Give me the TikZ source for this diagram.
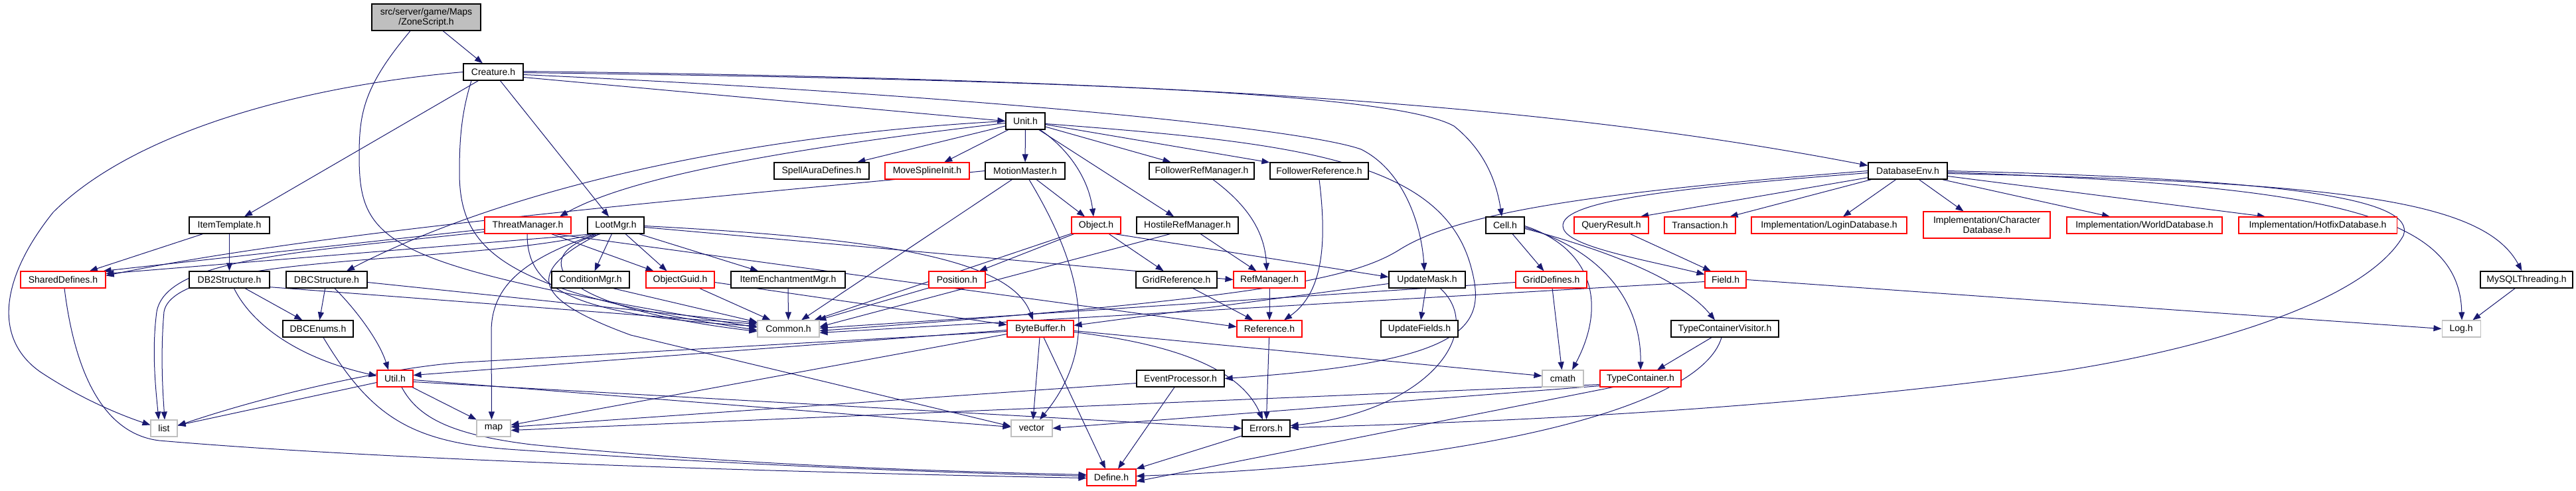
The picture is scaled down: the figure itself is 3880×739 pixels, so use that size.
\documentclass[tikz,border=0pt]{standalone}
\usepackage{fontspec}
\setmainfont{Liberation Sans}
\usetikzlibrary{arrows.meta,calc}
\definecolor{edgecol}{HTML}{191970}
\definecolor{grayb}{HTML}{BFBFBF}
\definecolor{redb}{HTML}{FF0000}
\pgfdeclarelayer{bg}
\pgfsetlayers{bg,main}
\tikzset{
  nbase/.style={rectangle,inner sep=0pt,minimum height=25pt,fill=white,line width=1.1pt,align=center,font=\fontsize{14}{15}\selectfont},
  bn/.style={nbase,draw=black,line width=1.3pt},
  rn/.style={nbase,draw=redb},
  gn/.style={nbase,draw=grayb},
  mn/.style={nbase,draw=black,line width=1.3pt,fill=grayb},
  ed/.style={draw=edgecol,line width=1pt,-{Triangle[length=12pt,width=9pt]}}
}
\begin{document}
\begin{tikzpicture}[x=1pt,y=-1pt]
\useasboundingbox (0,0) rectangle (3880,739);
% nodes
\node[mn,minimum width=164pt,minimum height=40pt] (zs) at (642,26) {src/server/game/Maps\\/ZoneScript.h};
\node[bn,minimum width=90pt] (creature) at (743,108.5) {Creature.h};
\node[bn,minimum width=59pt] (unit) at (1544.5,182.5) {Unit.h};
\node[bn,minimum width=143pt] (spellaura) at (1237.5,257.5) {SpellAuraDefines.h};
\node[rn,minimum width=127pt] (movespline) at (1396.5,257.5) {MoveSplineInit.h};
\node[bn,minimum width=120pt] (motion) at (1544,257.5) {MotionMaster.h};
\node[bn,minimum width=158pt] (folrefmgr) at (1810,257.5) {FollowerRefManager.h};
\node[bn,minimum width=148pt] (folref) at (1987,257.5) {FollowerReference.h};
\node[bn,minimum width=119pt] (dbenv) at (2873.5,257.5) {DatabaseEnv.h};
\node[bn,minimum width=121pt] (itemtpl) at (345.5,339.5) {ItemTemplate.h};
\node[rn,minimum width=130pt] (threat) at (795,339.5) {ThreatManager.h};
\node[bn,minimum width=85pt] (loot) at (927.5,339.5) {LootMgr.h};
\node[rn,minimum width=74pt] (object) at (1651,339.5) {Object.h};
\node[bn,minimum width=153pt] (hostile) at (1788.5,339.5) {HostileRefManager.h};
\node[bn,minimum width=58pt] (cell) at (2267,339.5) {Cell.h};
\node[rn,minimum width=112pt] (query) at (2427,339.5) {QueryResult.h};
\node[rn,minimum width=107pt] (trans) at (2560.5,339.5) {Transaction.h};
\node[rn,minimum width=234pt] (logindb) at (2755,339.5) {Implementation/LoginDatabase.h};
\node[rn,minimum width=191pt,minimum height=40pt] (chardb) at (2992.5,339) {Implementation/Character\\Database.h};
\node[rn,minimum width=234pt] (worlddb) at (3230,339.5) {Implementation/WorldDatabase.h};
\node[rn,minimum width=238pt] (hotfixdb) at (3491,339.5) {Implementation/HotfixDatabase.h};
\node[rn,minimum width=128pt] (shared) at (95,421.5) {SharedDefines.h};
\node[bn,minimum width=121pt] (db2) at (345.5,421.5) {DB2Structure.h};
\node[bn,minimum width=122pt] (dbc) at (492,421.5) {DBCStructure.h};
\node[bn,minimum width=117pt] (cond) at (889.5,421.5) {ConditionMgr.h};
\node[rn,minimum width=103pt] (guid) at (1024.5,421.5) {ObjectGuid.h};
\node[bn,minimum width=172pt] (itemench) at (1187,421.5) {ItemEnchantmentMgr.h};
\node[rn,minimum width=85pt] (position) at (1441.5,421.5) {Position.h};
\node[bn,minimum width=122pt] (gridref) at (1772,421.5) {GridReference.h};
\node[rn,minimum width=108pt] (refmgr) at (1912,421.5) {RefManager.h};
\node[bn,minimum width=115pt] (updmask) at (2149.5,421.5) {UpdateMask.h};
\node[rn,minimum width=107pt] (griddef) at (2336.5,421.5) {GridDefines.h};
\node[rn,minimum width=62pt] (field) at (2599,421.5) {Field.h};
\node[bn,minimum width=139pt] (mysql) at (3805.5,421.5) {MySQLThreading.h};
\node[bn,minimum width=106pt] (dbcenums) at (479,495.5) {DBCEnums.h};
\node[gn,minimum width=93pt] (common) at (1187.5,495.5) {Common.h};
\node[rn,minimum width=100pt] (bytebuf) at (1567,495.5) {ByteBuffer.h};
\node[rn,minimum width=98pt] (reference) at (1912,495.5) {Reference.h};
\node[bn,minimum width=116pt] (updfields) at (2138,495.5) {UpdateFields.h};
\node[bn,minimum width=162pt] (tcv) at (2598,495.5) {TypeContainerVisitor.h};
\node[gn,minimum width=58pt] (log) at (3707,495.5) {Log.h};
\node[rn,minimum width=54pt] (util) at (595,570.5) {Util.h};
\node[bn,minimum width=132pt] (eventproc) at (1778,570.5) {EventProcessor.h};
\node[gn,minimum width=62pt] (cmath) at (2354,570.5) {cmath};
\node[rn,minimum width=122pt] (tc) at (2471,570.5) {TypeContainer.h};
\node[gn,minimum width=40pt] (list) at (247,645.5) {list};
\node[gn,minimum width=51pt] (map) at (743.5,645.5) {map};
\node[gn,minimum width=62pt] (vector) at (1554,645.5) {vector};
\node[bn,minimum width=72pt] (errors) at (1907,645.5) {Errors.h};
\node[rn,minimum width=74pt] (define) at (1674,719.5) {Define.h};

\begin{pgfonlayer}{bg}
% ZoneScript
\draw[ed] (zs) -- (creature);
\draw[ed] ($(zs.south)+(-24,0)$) .. controls (548,130) and (541,170) .. (541,235) .. controls (541,370) and (580,400) .. ($(common.west)+(0,-2)$);
% Creature
\draw[ed] (creature) -- (itemtpl);
\draw[ed] (creature) -- (loot);
\draw[ed] ($(creature.east)+(0,8)$) -- (unit.west);
\draw[ed] ($(creature.south)+(-33,0)$) .. controls (695,170) and (692,210) .. (692,260) .. controls (692,380) and (760,440) .. ($(common.west)+(0,2)$);
\draw[ed] (creature.west) .. controls (450,130) and (200,200) .. (80,320) .. controls (0,420) and (-10,510) .. (60,560) .. controls (120,600) and (180,625) .. ($(list.west)+(0,-5)$);
\draw[ed] ($(creature.east)+(0,1)$) .. controls (1600,120) and (2100,140) .. (2190,190) .. controls (2240,230) and (2255,280) .. ($(cell.north)+(-5,0)$);
\draw[ed] ($(creature.east)+(0,-1)$) .. controls (1800,120) and (2350,160) .. ($(dbenv.west)+(0,-8)$);
\draw[ed] ($(creature.east)+(0,4)$) .. controls (1400,140) and (1950,190) .. (2050,225) .. controls (2110,255) and (2140,330) .. ($(updmask.north)+(-4,0)$);
% Unit
\draw[ed] (unit.west) .. controls (1100,205) and (750,290) .. ($(dbc.north)+(30,0)$);
\draw[ed] ($(unit.west)+(0,3)$) .. controls (1200,222) and (950,265) .. ($(threat.north)+(48,0)$);
\draw[ed] (unit) -- (spellaura);
\draw[ed] (unit) -- (movespline);
\draw[ed] (unit) -- (motion);
\draw[ed] ($(unit.south east)+(-8,0)$) .. controls (1610,225) and (1640,270) .. ($(object.north)+(-4,0)$);
\draw[ed] (unit) -- (hostile);
\draw[ed] (unit) -- (folrefmgr);
\draw[ed] (unit) -- (folref);
\draw[ed] ($(unit.east)+(0,4)$) .. controls (1950,215) and (2170,240) .. (2215,400) .. controls (2240,490) and (2220,545) .. (eventproc.east);
% ItemTemplate
\draw[ed] (itemtpl) -- (shared);
\draw[ed] (itemtpl) -- (db2);
% ThreatManager
\draw[ed] ($(threat.west)+(0,6)$) -- ($(shared.north east)+(-4,0)$);
\draw[ed] ($(threat.west)+(0,10)$) .. controls (450,380) and (250,390) .. (236,470) .. controls (228,530) and (235,590) .. ($(list.north)+(-8,0)$);
\draw[ed] ($(threat.south east)+(-30,0)$) -- ($(guid.north)+(-40,0)$);
\draw[ed] ($(threat.south east)+(-25,0)$) -- ($(reference.west)+(0,-3)$);
\draw[ed] ($(threat.south)+(-1,0)$) .. controls (794,430) and (850,475) .. ($(common.west)+(0,-4)$);
% LootMgr
\draw[ed] ($(loot.south west)+(10,0)$) -- ($(shared.east)+(0,-9)$);
\draw[ed] ($(loot.south west)+(12,0)$) .. controls (700,400) and (262,380) .. (247,470) .. controls (241,540) and (246,600) .. ($(list.north)+(1,0)$);
\draw[ed] ($(loot.south west)+(14,0)$) .. controls (790,390) and (740,430) .. (740,500) -- ($(map.north)+(-3,0)$);
\draw[ed] ($(loot.south west)+(18,0)$) .. controls (790,410) and (800,450) .. (950,505) -- ($(vector.west)+(0,-3)$);
\draw[ed] ($(loot.south west)+(20,0)$) .. controls (800,380) and (810,460) .. ($(common.west)+(0,4)$);
\draw[ed] (loot) -- (cond);
\draw[ed] (loot) -- ($(guid.north)+(-20,0)$);
\draw[ed] ($(loot.south east)+(-8,0)$) -- ($(itemench.north)+(-45,0)$);
\draw[ed] ($(loot.east)+(0,3)$) -- (refmgr.west);
\draw[ed] ($(loot.east)+(0,1)$) .. controls (1300,358) and (1520,385) .. ($(bytebuf.north)+(-11,0)$);
% MotionMaster
\draw[ed] (motion.west) .. controls (1100,295) and (500,345) .. ($(shared.east)+(0,-6)$);
\draw[ed] (motion) -- (common);
\draw[ed] ($(motion.south)+(6,0)$) .. controls (1640,420) and (1650,530) .. ($(vector.north)+(12,0)$);
\draw[ed] (motion) -- (object);
% Object
\draw[ed] (object) -- (position);
\draw[ed] (object) -- (common);
\draw[ed] (object) -- (gridref);
\draw[ed] ($(object.south east)+(-10,0)$) -- ($(updmask.west)+(0,-4)$);
% HostileRefManager
\draw[ed] ($(hostile.south west)+(51,0)$) -- ($(common.east)+(0,-3)$);
\draw[ed] (hostile) -- (refmgr);
% FollowerRefManager, FollowerReference
\draw[ed] ($(folrefmgr.south)+(17,0)$) .. controls (1880,310) and (1905,350) .. ($(refmgr.north)+(-4,0)$);
\draw[ed] (folref.south) .. controls (1998,360) and (1995,440) .. ($(reference.north)+(22,0)$);
% references
\draw[ed] (gridref) -- (reference);
\draw[ed] (refmgr) -- (reference);
\draw[ed] (reference) -- (errors);
% DB2 / DBC
\draw[ed] (db2) -- (dbcenums);
\draw[ed] ($(db2.south)+(7,0)$) .. controls (380,490) and (450,540) .. ($(util.west)+(0,-4)$);
\draw[ed] ($(db2.south east)+(0,-2)$) -- ($(common.west)+(0,-7)$);
\draw[ed] (dbc) -- (dbcenums);
\draw[ed] ($(dbc.south)+(12,0)$) .. controls (530,460) and (570,510) .. ($(util.north)+(-10,0)$);
\draw[ed] ($(dbc.east)+(0,4)$) -- ($(common.west)+(0,-9)$);
% to Define from the left
\draw[ed] ($(dbcenums.south)+(8,0)$) .. controls (560,630) and (620,668) .. (780,678) .. controls (1100,700) and (1400,712) .. ($(define.west)+(0,-2)$);
\draw[ed] ($(shared.south)+(2,0)$) .. controls (115,580) and (165,655) .. (240,664) .. controls (600,695) and (1200,712) .. ($(define.west)+(0,1)$);
\draw[ed] ($(util.south)+(10,0)$) .. controls (630,630) and (680,655) .. (800,670) .. controls (1100,700) and (1400,710) .. ($(define.west)+(0,-4)$);
% Util
\draw[ed] (util) -- (list);
\draw[ed] (util) -- (map);
\draw[ed] ($(util.east)+(0,2)$) -- ($(vector.west)+(0,-2)$);
\draw[ed] ($(util.east)+(0,5)$) -- (errors.west);
% Condition / Guid / ItemEnchantment / Position
\draw[ed] ($(cond.south east)+(-25,0)$) -- ($(common.west)+(0,-10)$);
\draw[ed] (guid) -- ($(common.north)+(-27,0)$);
\draw[ed] ($(guid.east)+(0,4)$) -- ($(bytebuf.west)+(0,-6)$);
\draw[ed] (itemench) -- (common);
\draw[ed] (position) -- (common);
% ByteBuffer
\draw[ed] ($(bytebuf.west)+(0,4)$) -- (700,546) .. controls (600,552) and (420,590) .. ($(list.east)+(0,-4)$);
\draw[ed] ($(bytebuf.west)+(0,2)$) -- ($(util.east)+(0,-5)$);
\draw[ed] ($(bytebuf.west)+(0,8)$) -- ($(map.east)+(0,-5)$);
\draw[ed] ($(bytebuf.south)+(-1,0)$) -- ($(vector.north)+(2,0)$);
\draw[ed] ($(bytebuf.south)+(5,0)$) -- ($(define.north)+(-9,0)$);
\draw[ed] ($(bytebuf.east)+(0,5)$) .. controls (1780,520) and (1870,560) .. ($(errors.north)+(-5,0)$);
\draw[ed] ($(bytebuf.east)+(0,3)$) -- ($(cmath.west)+(0,-4)$);
% EventProcessor, Errors
\draw[ed] ($(eventproc.west)+(0,7)$) -- ($(map.east)+(0,-2)$);
\draw[ed] ($(eventproc.south)+(-9,0)$) -- ($(define.north)+(10,0)$);
\draw[ed] (errors) -- ($(define.east)+(0,-13)$);
% UpdateMask
\draw[ed] (updmask) -- (updfields);
\draw[ed] ($(updmask.south)+(20,0)$) .. controls (2240,500) and (2150,620) .. ($(errors.east)+(0,-4)$);
\draw[ed] ($(updmask.west)+(0,6)$) -- ($(bytebuf.east)+(0,-5)$);
% GridDefines
\draw[ed] (griddef) -- (cmath);
\draw[ed] ($(griddef.west)+(0,4)$) -- ($(common.east)+(0,-1)$);
% Cell
\draw[ed] (cell) -- (griddef);
\draw[ed] ($(cell.east)+(0,1)$) .. controls (2400,375) and (2420,460) .. ($(cmath.north)+(14,0)$);
\draw[ed] ($(cell.east)+(0,3)$) .. controls (2420,380) and (2472,460) .. (tc.north);
\draw[ed] ($(cell.east)+(0,5)$) .. controls (2450,385) and (2540,430) .. ($(tcv.north)+(-15,0)$);
% TypeContainerVisitor, TypeContainer
\draw[ed] ($(tcv.south)+(-20,0)$) -- ($(tc.north)+(25,0)$);
\draw[ed] ($(tcv.south)+(-5,0)$) .. controls (2560,620) and (2200,700) .. ($(define.east)+(0,-2)$);
\draw[ed] ($(tc.south west)+(0,-4)$) -- ($(map.east)+(0,3)$);
\draw[ed] ($(tc.south west)+(0,-2)$) -- (vector.east);
\draw[ed] ($(tc.south west)+(20,0)$) -- ($(define.east)+(0,6)$);
% DatabaseEnv
\draw[ed] (dbenv.west) .. controls (2400,290) and (2200,320) .. (2110,375) .. controls (2040,420) and (1900,450) .. ($(common.east)+(0,3)$);
\draw[ed] ($(dbenv.west)+(0,3)$) .. controls (2500,285) and (2340,305) .. (2355,345) .. controls (2365,372) and (2470,390) .. ($(field.west)+(0,-8)$);
\draw[ed] ($(dbenv.south west)+(0,-3)$) -- ($(query.north)+(44,0)$);
\draw[ed] ($(dbenv.south west)+(5,0)$) -- ($(trans.north)+(45,0)$);
\draw[ed] ($(dbenv.south)+(-18,0)$) -- ($(logindb.north)+(21,0)$);
\draw[ed] ($(dbenv.south)+(17,0)$) -- ($(chardb.north)+(-35,0)$);
\draw[ed] ($(dbenv.south east)+(-8,0)$) -- ($(worlddb.north)+(-52,0)$);
\draw[ed] ($(dbenv.east)+(0,8)$) -- ($(hotfixdb.north)+(-79,0)$);
\draw[ed] (dbenv.east) .. controls (3450,270) and (3640,300) .. (3620,355) .. controls (3560,460) and (3300,530) .. (3100,560) .. controls (2700,615) and (2300,635) .. ($(errors.east)+(0,-1)$);
\draw[ed] ($(dbenv.east)+(0,2)$) .. controls (3500,280) and (3705,320) .. ($(log.north)+(1,0)$);
\draw[ed] ($(dbenv.east)+(0,4)$) .. controls (3520,275) and (3740,300) .. ($(mysql.north)+(-7,0)$);
% QueryResult, Field, MySQL
\draw[ed] (query) -- ($(field.north)+(-22,0)$);
\draw[ed] ($(field.west)+(0,3)$) -- ($(common.east)+(0,6)$);
\draw[ed] (field.east) -- (log.west);
\draw[ed] (mysql) -- (log);
\end{pgfonlayer}
\end{tikzpicture}
\end{document}
